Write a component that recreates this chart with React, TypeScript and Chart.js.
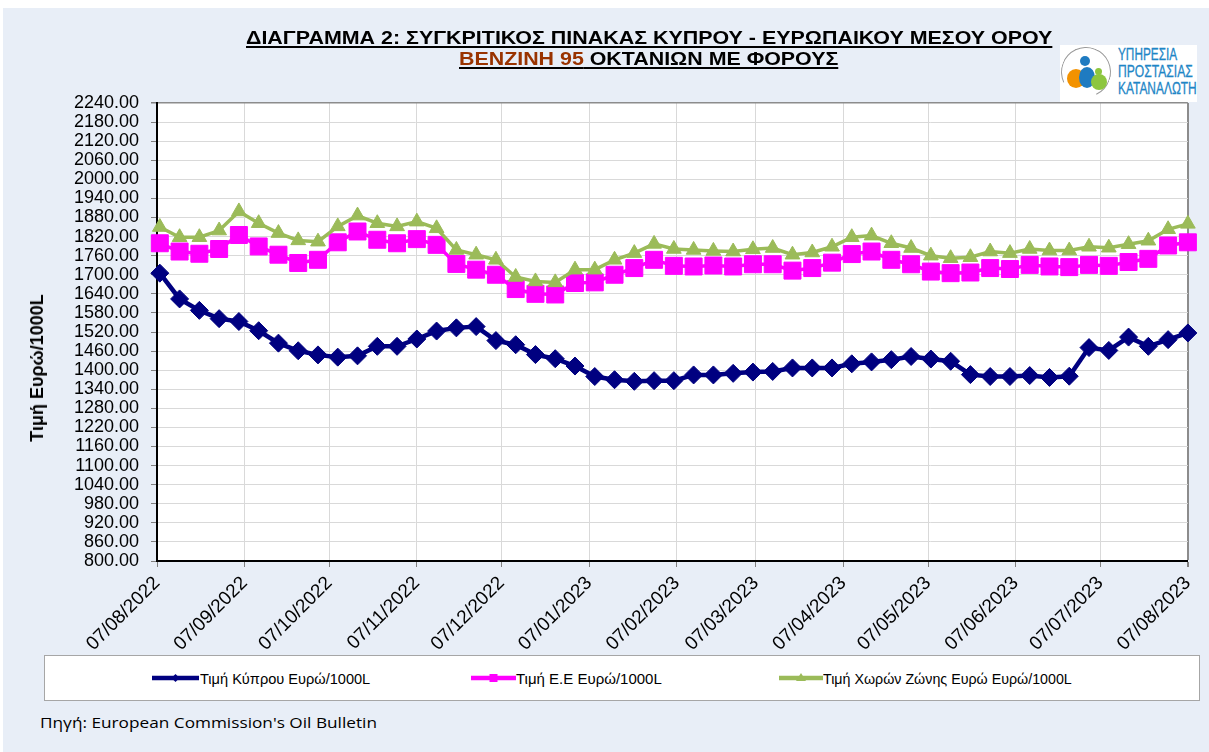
import React, { useEffect, useLayoutEffect, useRef, useState } from "react";
import { Chart, registerables } from "chart.js";
Chart.register(...registerables);

// ---- DATA ----
const weekDates = [
  "08/08/2022", "15/08/2022", "22/08/2022", "29/08/2022", "05/09/2022", "12/09/2022", "19/09/2022", "26/09/2022",
  "03/10/2022", "10/10/2022", "17/10/2022", "24/10/2022", "31/10/2022", "07/11/2022", "14/11/2022", "21/11/2022",
  "28/11/2022", "05/12/2022", "12/12/2022", "19/12/2022", "26/12/2022", "02/01/2023", "09/01/2023", "16/01/2023",
  "23/01/2023", "30/01/2023", "06/02/2023", "13/02/2023", "20/02/2023", "27/02/2023", "06/03/2023", "13/03/2023",
  "20/03/2023", "27/03/2023", "03/04/2023", "10/04/2023", "17/04/2023", "24/04/2023", "01/05/2023", "08/05/2023",
  "15/05/2023", "22/05/2023", "29/05/2023", "05/06/2023", "12/06/2023", "19/06/2023", "26/06/2023", "03/07/2023",
  "10/07/2023", "17/07/2023", "24/07/2023", "31/07/2023", "07/08/2023",
];

const cyprusPrice = [
  1705, 1624, 1588, 1562, 1553, 1524, 1485, 1461, 1448, 1441,
  1445, 1475, 1475, 1498, 1523, 1533, 1537, 1493, 1480, 1449,
  1436, 1413, 1380, 1370, 1365, 1367, 1367, 1385, 1385, 1390,
  1394, 1396, 1407, 1407, 1407, 1420, 1426, 1433, 1443, 1435,
  1428, 1386, 1380, 1380, 1383, 1377, 1381, 1471, 1462, 1504,
  1475, 1496, 1517,
];

const euPrice = [
  1799, 1773, 1766, 1781, 1825, 1789, 1763, 1737, 1747, 1802,
  1836, 1810, 1799, 1812, 1794, 1734, 1716, 1700, 1655, 1640,
  1638, 1674, 1676, 1700, 1721, 1747, 1728, 1726, 1729, 1726,
  1733, 1733, 1713, 1721, 1738, 1765, 1773, 1747, 1733, 1710,
  1705, 1707, 1721, 1718, 1731, 1726, 1724, 1731, 1728, 1740,
  1750, 1792, 1802,
];

const euroAreaPrice = [
  1850, 1818, 1818, 1839, 1899, 1862, 1831, 1808, 1804, 1852,
  1886, 1862, 1852, 1867, 1846, 1778, 1763, 1747, 1693, 1679,
  1676, 1716, 1716, 1747, 1768, 1797, 1781, 1778, 1775, 1773,
  1780, 1784, 1763, 1770, 1788, 1818, 1823, 1799, 1784, 1760,
  1752, 1755, 1773, 1768, 1781, 1776, 1776, 1788, 1785, 1796,
  1807, 1843, 1860,
];

const monthTickLabels = [
  "07/08/2022", "07/09/2022", "07/10/2022", "07/11/2022", "07/12/2022", "07/01/2023", "07/02/2023",
  "07/03/2023", "07/04/2023", "07/05/2023", "07/06/2023", "07/07/2023", "07/08/2023",
];

const seriesNames = ["Τιμή Κύπρου Ευρώ/1000L", "Τιμή Ε.Ε Ευρώ/1000L", "Τιμή Χωρών Ζώνης Ευρώ Ευρώ/1000L"];
const seriesColors = ["#000080", "#FF00FF", "#9BBB59"];

const Y_MIN = 800;
const Y_MAX = 2240;
const Y_STEP = 60;

// ---- HELPERS ----
const parseDate = (s: string) => {
  const [d, m, y] = s.split("/").map(Number);
  return Date.UTC(y, m - 1, d);
};
const AXIS_START = parseDate(monthTickLabels[0]);
const toDay = (s: string) => Math.round((parseDate(s) - AXIS_START) / 86400000);
const X_MAX = toDay(monthTickLabels[monthTickLabels.length - 1]);

const BG = "#E8EEF7";
const NARROW = "'Liberation Sans Narrow', 'Arial Narrow', 'Liberation Sans', Arial, sans-serif";
const SANS = "'Liberation Sans', Arial, sans-serif";

function FitText({ width, style, children }: { width: number; style?: any; children: any }) {
  const ref = useRef<HTMLSpanElement>(null);
  const [sx, setSx] = useState(1);
  useLayoutEffect(() => {
    const el = ref.current;
    if (!el) return;
    const w = el.offsetWidth;
    if (w > 0) setSx(width / w);
  }, [width]);
  return (
    <span
      ref={ref}
      style={{
        display: "inline-block",
        whiteSpace: "nowrap",
        transform: `scaleX(${sx})`,
        transformOrigin: "left center",
        lineHeight: 1,
        ...style,
      }}
    >
      {children}
    </span>
  );
}

const plotBg = {
  id: "plotBg",
  beforeDraw(chart: any) {
    const { ctx, chartArea: a } = chart;
    ctx.save();
    ctx.fillStyle = "#ffffff";
    ctx.fillRect(a.left, a.top, a.right - a.left, a.bottom - a.top);
    ctx.restore();
  },
};

function LegendSymbol({ kind, color, x1, x2 }: { kind: string; color: string; x1: number; x2: number }) {
  const w = x2 - x1;
  const cx = w / 2;
  const cy = 6;
  let marker: any = null;
  if (kind === "diamond") marker = <polygon points={`${cx - 4},${cy} ${cx},${cy - 4} ${cx + 4},${cy} ${cx},${cy + 4}`} fill={color} />;
  if (kind === "square") marker = <rect x={cx - 4} y={cy - 4} width={8} height={8} fill={color} />;
  if (kind === "triangle") marker = <polygon points={`${cx},${cy - 5} ${cx + 5},${cy + 3} ${cx - 5},${cy + 3}`} fill={color} />;
  return (
    <svg width={w} height={12} style={{ position: "absolute", left: x1, top: 672 }}>
      <line x1={0} y1={cy} x2={w} y2={cy} stroke={color} strokeWidth={4.5} />
      {marker}
    </svg>
  );
}

export default function App() {
  const canvasRef = useRef<HTMLCanvasElement>(null);

  useEffect(() => {
    const canvas = canvasRef.current;
    if (!canvas) return;
    const mk = (vals: number[]) => weekDates.map((d, i) => ({ x: toDay(d), y: vals[i] }));
    const chart = new Chart(canvas, {
      type: "line",
      data: {
        datasets: [
          {
            label: seriesNames[2],
            data: mk(euroAreaPrice),
            borderColor: seriesColors[2],
            backgroundColor: seriesColors[2],
            borderWidth: 3.5,
            pointStyle: "triangle",
            pointRadius: 8.5,
            pointBackgroundColor: seriesColors[2],
            pointBorderColor: seriesColors[2],
            pointBorderWidth: 1,
            tension: 0,
            clip: false,
            order: 0,
          },
          {
            label: seriesNames[1],
            data: mk(euPrice),
            borderColor: seriesColors[1],
            backgroundColor: seriesColors[1],
            borderWidth: 3.5,
            pointStyle: "rect",
            pointRadius: 12,
            pointBackgroundColor: seriesColors[1],
            pointBorderColor: seriesColors[1],
            pointBorderWidth: 1,
            tension: 0,
            clip: false,
            order: 1,
          },
          {
            label: seriesNames[0],
            data: mk(cyprusPrice),
            borderColor: seriesColors[0],
            backgroundColor: seriesColors[0],
            borderWidth: 4.5,
            pointStyle: "rectRot",
            pointRadius: 9,
            pointBackgroundColor: seriesColors[0],
            pointBorderColor: seriesColors[0],
            pointBorderWidth: 1,
            tension: 0,
            clip: false,
            order: 2,
          },
        ],
      },
      options: {
        responsive: false,
        animation: false,
        events: [],
        layout: { padding: { top: 103, right: 21, left: 0, bottom: 0 } },
        plugins: { legend: { display: false }, tooltip: { enabled: false }, title: { display: false } },
        scales: {
          x: {
            type: "linear",
            min: 0,
            max: X_MAX,
            afterBuildTicks: (scale: any) => {
              scale.ticks = monthTickLabels.map((l) => ({ value: toDay(l) }));
            },
            afterFit: (scale: any) => {
              scale.height = 91;
            },
            ticks: {
              autoSkip: false,
              minRotation: 45,
              maxRotation: 45,
              padding: 5,
              color: "#000",
              font: { family: SANS, size: 19 },
              callback: (_v: any, i: number) => monthTickLabels[i],
            },
            grid: {
              color: (c: any) => (c.tick && c.tick.value === X_MAX ? "#8c8c8c" : "#d9d9d9"),
              lineWidth: (c: any) => (c.tick && c.tick.value === X_MAX ? 2 : 1),
              tickColor: "#7f7f7f",
              tickLength: 6,
            },
            border: { display: true, color: "#000", width: 2 },
          },
          y: {
            type: "linear",
            min: Y_MIN,
            max: Y_MAX,
            afterFit: (scale: any) => {
              scale.width = 157;
            },
            ticks: {
              stepSize: Y_STEP,
              maxTicksLimit: 100,
              autoSkip: false,
              padding: 12,
              color: "#000",
              font: { family: SANS, size: 18 },
              callback: (v: any) => Number(v).toFixed(2),
            },
            grid: {
              color: (c: any) => (c.tick && c.tick.value === Y_MAX ? "#8c8c8c" : "#d9d9d9"),
              lineWidth: (c: any) => (c.tick && c.tick.value === Y_MAX ? 1.5 : 1),
              tickColor: "#7f7f7f",
              tickLength: 6,
            },
            border: { display: true, color: "#000", width: 2 },
          },
        },
      },
      plugins: [plotBg],
    } as any);
    return () => chart.destroy();
  }, []);

  return (
    <div
      style={{
        position: "fixed",
        left: 0,
        top: 0,
        width: 1209,
        height: 752,
        background: "#ffffff",
        overflow: "hidden",
        fontFamily: SANS,
      }}
    >
      <div style={{ position: "absolute", left: 3, top: 8, right: 0, bottom: 0, background: BG }} />

      <div style={{ position: "absolute", left: 0, top: 0, width: 1209, height: 652 }}>
        <canvas ref={canvasRef} width={1209} height={652} style={{ display: "block", width: 1209, height: 652 }} />
      </div>

      {/* Title */}
      <div style={{ position: "absolute", left: 246, top: 29 }}>
        <FitText
          width={806}
          style={{
            fontFamily: NARROW,
            fontWeight: "bold",
            fontSize: 18,
            color: "#000",
            textDecoration: "underline",
            textDecorationThickness: "2px",
            textUnderlineOffset: "2px",
          }}
        >
          ΔΙΑΓΡΑΜΜΑ 2: ΣΥΓΚΡΙΤΙΚΟΣ ΠΙΝΑΚΑΣ ΚΥΠΡΟΥ - ΕΥΡΩΠΑΙΚΟΥ ΜΕΣΟΥ ΟΡΟΥ
        </FitText>
      </div>
      <div style={{ position: "absolute", left: 459, top: 50 }}>
        <FitText
          width={379}
          style={{
            fontFamily: NARROW,
            fontWeight: "bold",
            fontSize: 18,
            color: "#000",
            textDecoration: "underline",
            textDecorationThickness: "2px",
            textUnderlineOffset: "2px",
          }}
        >
          <span style={{ color: "#993300" }}>ΒΕΝΖΙΝΗ 95</span> ΟΚΤΑΝΙΩΝ ΜΕ ΦΟΡΟΥΣ
        </FitText>
      </div>

      {/* Logo */}
      <div style={{ position: "absolute", left: 1060, top: 45, width: 137, height: 57, background: "#ffffff" }}>
        <div
          style={{
            position: "absolute",
            left: 1,
            top: 2,
            width: 48,
            height: 48,
            borderRadius: "50%",
            border: "1.5px solid #9a9a9a",
            borderBottomColor: "transparent",
            transform: "rotate(20deg)",
          }}
        />
        <div style={{ position: "absolute", left: 7, top: 24, width: 18, height: 19, borderRadius: "50%", background: "#F39200" }} />
        <div style={{ position: "absolute", left: 19, top: 22, width: 16, height: 21, borderRadius: "50%", background: "#1F7BC1" }} />
        <div style={{ position: "absolute", left: 31, top: 29, width: 16, height: 16, borderRadius: "50%", background: "#8DC63F" }} />
        <div style={{ position: "absolute", left: 20, top: 11, width: 10, height: 10, borderRadius: "50%", background: "#1F7BC1" }} />
        <div style={{ position: "absolute", left: 34.5, top: 22.5, width: 7, height: 7, borderRadius: "50%", background: "#8DC63F" }} />
      </div>
      {[
        { t: "ΥΠΗΡΕΣΙΑ", top: 45.5, w: 59 },
        { t: "ΠΡΟΣΤΑΣΙΑΣ", top: 63, w: 75 },
        { t: "ΚΑΤΑΝΑΛΩΤΗ", top: 80, w: 79 },
      ].map((l) => (
        <div key={l.t} style={{ position: "absolute", left: 1117.5, top: l.top }}>
          <FitText width={l.w} style={{ fontFamily: NARROW, fontSize: 16, fontWeight: 500, color: "#1E86C6", WebkitTextStroke: "0.3px #1E86C6" }}>
            {l.t}
          </FitText>
        </div>
      ))}

      {/* Y axis title */}
      <div
        style={{
          position: "absolute",
          left: 37,
          top: 368,
          transform: "translate(-50%, -50%) rotate(-90deg)",
          fontFamily: SANS,
          fontWeight: "bold",
          fontSize: 18,
          whiteSpace: "nowrap",
          lineHeight: 1,
          color: "#000",
        }}
      >
        Τιμή Ευρώ/1000L
      </div>

      {/* Legend */}
      <div
        style={{
          position: "absolute",
          left: 44,
          top: 655,
          width: 1154,
          height: 44,
          background: "#ffffff",
          border: "1px solid #a6a6a6",
        }}
      />
      <LegendSymbol kind="diamond" color={seriesColors[0]} x1={152} x2={199} />
      <LegendSymbol kind="square" color={seriesColors[1]} x1={471} x2={516} />
      <LegendSymbol kind="triangle" color={seriesColors[2]} x1={779} x2={823} />
      {[
        { t: seriesNames[0], left: 200, w: 170 },
        { t: seriesNames[1], left: 516, w: 146 },
        { t: seriesNames[2], left: 823, w: 249 },
      ].map((l) => (
        <div key={l.t} style={{ position: "absolute", left: l.left, top: 670 }}>
          <FitText width={l.w} style={{ fontFamily: NARROW, fontSize: 15, color: "#000" }}>
            {l.t}
          </FitText>
        </div>
      ))}

      {/* Source */}
      <div style={{ position: "absolute", left: 40, top: 714 }}>
        <FitText width={337} style={{ fontFamily: "'Open Sans', 'Noto Sans', sans-serif", fontSize: 14, color: "#000" }}>
          Πηγή: European Commission's Oil Bulletin
        </FitText>
      </div>
    </div>
  );
}
